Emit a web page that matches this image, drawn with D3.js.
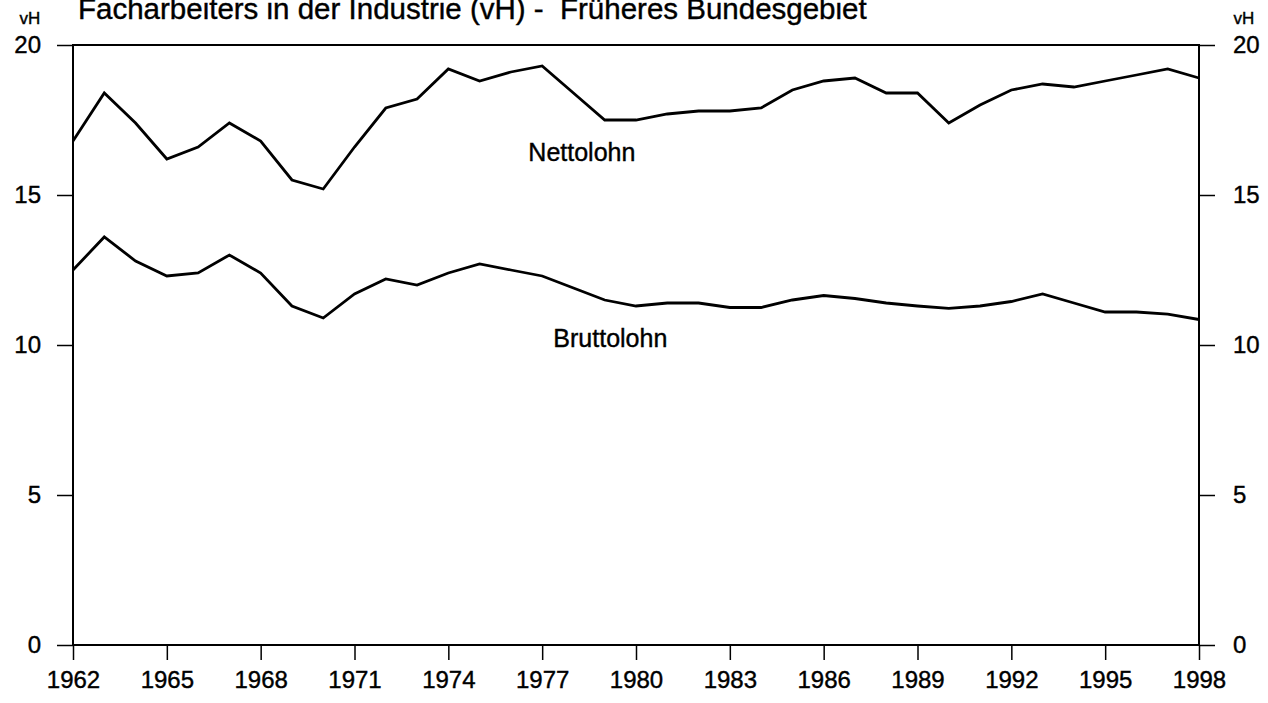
<!DOCTYPE html>
<html>
<head>
<meta charset="utf-8">
<script src="https://cdn.jsdelivr.net/npm/d3@7"></script>
<style>
  body { margin: 0; background: #fff; }
  svg { display: block; }
  text { font-family: "Liberation Sans", Arial, sans-serif; fill: #000; stroke: #000; stroke-width: 0.4px; }
</style>
</head>
<body>
<div id="chart"></div>
<script>
var years = d3.range(1962, 1999);

// Nettolohn, vH
var netto = [16.8, 18.4, 17.4, 16.2, 16.6, 17.4, 16.8, 15.5, 15.2, 16.6,
             17.9, 18.2, 19.2, 18.8, 19.1, 19.3, 18.4, 17.5, 17.5, 17.7,
             17.8, 17.8, 17.9, 18.5, 18.8, 18.9, 18.4, 18.4, 17.4, 18.0,
             18.5, 18.7, 18.6, 18.8, 19.0, 19.2, 18.9];

// Bruttolohn, vH
var brutto = [12.5, 13.6, 12.8, 12.3, 12.4, 13.0, 12.4, 11.3, 10.9, 11.7,
              12.2, 12.0, 12.4, 12.7, 12.5, 12.3, 11.9, 11.5, 11.3, 11.4,
              11.4, 11.25, 11.25, 11.5, 11.65, 11.55, 11.4, 11.3, 11.22, 11.3,
              11.45, 11.7, 11.4, 11.1, 11.1, 11.03, 10.85];

var yTicks = [0, 5, 10, 15, 20];
var xTicks = d3.range(1962, 1999, 3);

var title = "Facharbeiters in der Industrie (vH) -  Früheres Bundesgebiet";

var margin = {top: 45, right: 69, bottom: 58, left: 73},
    width = 1268 - margin.left - margin.right,
    height = 703 - margin.top - margin.bottom;

var x = d3.scaleLinear()
    .domain([1962, 1998])
    .range([0, width]);

var y = d3.scaleLinear()
    .domain([0, 20])
    .range([height, 0]);

var svg = d3.select("#chart").append("svg")
    .attr("width", 1268)
    .attr("height", 703);

var g = svg.append("g")
    .attr("transform", "translate(" + margin.left + "," + margin.top + ")");

// title, its top is cut by the page edge as in the scan
svg.append("text")
    .attr("x", 78)
    .attr("y", 19)
    .style("font-size", "29.5px")
    .style("white-space", "pre")
    .text(title);

svg.append("text")
    .attr("x", 30).attr("y", 24)
    .attr("text-anchor", "middle")
    .style("font-size", "17px")
    .text("vH");

svg.append("text")
    .attr("x", 1244).attr("y", 24)
    .attr("text-anchor", "middle")
    .style("font-size", "17px")
    .text("vH");

// frame
g.append("rect")
    .attr("width", width)
    .attr("height", height)
    .attr("fill", "none")
    .attr("stroke", "#000")
    .attr("stroke-width", 2);

var yLeft = d3.axisLeft(y).tickValues(yTicks).tickSize(16).tickPadding(16);
var yRight = d3.axisRight(y).tickValues(yTicks).tickSize(16).tickPadding(18);
var xAxis = d3.axisBottom(x).tickValues(xTicks).tickSize(15).tickPadding(11)
    .tickFormat(d3.format("d"));

function styleAxis(sel) {
  sel.select(".domain").remove();
  sel.selectAll(".tick line").attr("stroke", "#000").attr("stroke-width", 1.5);
  sel.selectAll(".tick text")
      .attr("fill", "#000")
      .style("font-size", "24px")
      .style("font-family", "'Liberation Sans', Arial, sans-serif");
}

g.append("g").call(yLeft).call(styleAxis);
g.append("g").attr("transform", "translate(" + width + ",0)").call(yRight).call(styleAxis);
g.append("g").attr("transform", "translate(0," + height + ")").call(xAxis).call(styleAxis);

var line = d3.line()
    .x(function(d, i) { return x(years[i]); })
    .y(function(d) { return y(d); });

[netto, brutto].forEach(function(s) {
  g.append("path")
      .datum(s)
      .attr("fill", "none")
      .attr("stroke", "#000")
      .attr("stroke-width", 2.8)
      .attr("d", line);
});

g.append("text")
    .attr("x", x(1978.27)).attr("y", y(16.15))
    .attr("text-anchor", "middle")
    .style("font-size", "25px")
    .text("Nettolohn");

g.append("text")
    .attr("x", x(1979.18)).attr("y", y(9.95))
    .attr("text-anchor", "middle")
    .style("font-size", "25px")
    .text("Bruttolohn");
</script>
</body>
</html>
